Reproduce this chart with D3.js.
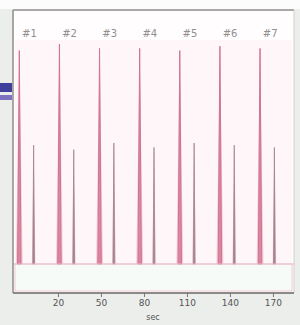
<!DOCTYPE html>
<html>
<head>
<meta charset="utf-8">
<script src="https://cdn.jsdelivr.net/npm/d3@7"></script>
<style>
  html, body { margin: 0; padding: 0; background: #eceeec; }
  svg { display: block; font-family: "DejaVu Sans", sans-serif; }
</style>
</head>
<body>
<svg id="chart" width="300" height="325"></svg>
<script>
// Data
const peakLabels = ['#1', '#2', '#3', '#4', '#5', '#6', '#7'];
const tallTimes = [-7, 21, 49, 77, 105, 133, 161];
const tallHeights = [97, 100, 98, 98, 97, 99, 98];
const smallTimes = [3, 31, 59, 87, 115, 143, 171];
const smallHeights = [54, 52, 55, 53, 55, 54, 53];
const xTicks = [20, 50, 80, 110, 140, 170];
const xTitle = 'sec';

// Layout
const PLOT_LEFT = 13;
const PLOT_RIGHT = 294;
const PLOT_TOP = 10;
const AXIS_Y = 293;
const BASE_Y = 264;
const APEX_Y = 44;

let svg = d3.select('#chart');

let x = d3.scaleLinear().domain([-11.4, 184]).range([PLOT_LEFT, 293]);
let y = d3.scaleLinear().domain([0, 100]).range([BASE_Y, APEX_Y]);

// page top strip
svg.append('rect').attr('x', 0).attr('y', 0).attr('width', 300).attr('height', 9)
    .attr('fill', '#fbfcfb');

// plot background
svg.append('rect')
    .attr('x', PLOT_LEFT).attr('y', PLOT_TOP)
    .attr('width', PLOT_RIGHT - PLOT_LEFT).attr('height', AXIS_Y - PLOT_TOP)
    .attr('fill', '#fffdfd');
svg.append('rect')
    .attr('x', PLOT_LEFT + 2).attr('y', 40)
    .attr('width', PLOT_RIGHT - PLOT_LEFT - 4).attr('height', BASE_Y - 40)
    .attr('fill', '#fef6f8');

// lower strip under the baseline
svg.append('rect')
    .attr('x', PLOT_LEFT + 2).attr('y', BASE_Y)
    .attr('width', PLOT_RIGHT - PLOT_LEFT - 4).attr('height', AXIS_Y - BASE_Y - 2)
    .attr('fill', '#f7fbf8')
    .attr('stroke', '#efc9d5').attr('stroke-width', 1);

// small blue markers at the far left
svg.append('rect').attr('x', 0).attr('y', 83).attr('width', 12).attr('height', 9)
    .attr('fill', '#3f3f9c');
svg.append('rect').attr('x', 0).attr('y', 95).attr('width', 12).attr('height', 5)
    .attr('fill', '#7d72c0');

let defs = svg.append('defs');
defs.append('filter').attr('id', 'soft')
    .append('feGaussianBlur').attr('stdDeviation', 0.7);

let peakArea = d3.area()
    .x(function(d) { return x(d[0]); })
    .y0(y(0))
    .y1(function(d) { return y(d[1]); });

function peakPoints(t, h, hw) {
  return [[t - hw, 0], [t, h], [t + hw, 0]];
}

let peaks = svg.append('g').attr('filter', 'url(#soft)');

// halo of the tall peaks
tallTimes.forEach(function(t, i) {
  peaks.append('path')
      .attr('d', peakArea(peakPoints(t, tallHeights[i], 2.4)))
      .attr('fill', '#f4cbd8');
});
tallTimes.forEach(function(t, i) {
  peaks.append('path')
      .attr('d', peakArea(peakPoints(t, tallHeights[i], 1.2)))
      .attr('fill', '#da879f')
      .attr('stroke', '#cf7492').attr('stroke-width', 1);
});
smallTimes.forEach(function(t, i) {
  peaks.append('path')
      .attr('d', peakArea(peakPoints(t, smallHeights[i], 1.3)))
      .attr('fill', '#eed3dc');
  peaks.append('path')
      .attr('d', peakArea(peakPoints(t, smallHeights[i], 0.6)))
      .attr('fill', '#a98493')
      .attr('stroke', '#a07c8c').attr('stroke-width', 0.7);
});

// baseline
svg.append('line')
    .attr('x1', PLOT_LEFT).attr('x2', PLOT_RIGHT)
    .attr('y1', BASE_Y).attr('y2', BASE_Y)
    .attr('stroke', '#eab9c9').attr('stroke-width', 1.2);

// peak labels
svg.append('g').selectAll('text')
    .data(peakLabels)
    .join('text')
    .attr('x', function(d, i) { return (x(tallTimes[i]) + x(smallTimes[i])) / 2 + 3; })
    .attr('y', 37)
    .attr('text-anchor', 'middle')
    .attr('font-size', 10)
    .attr('fill', '#8f8f8f')
    .text(function(d) { return d; });

// frame
svg.append('line').attr('x1', PLOT_LEFT).attr('x2', PLOT_RIGHT)
    .attr('y1', PLOT_TOP).attr('y2', PLOT_TOP)
    .attr('stroke', '#a9a9a9').attr('stroke-width', 2);
svg.append('line').attr('x1', PLOT_LEFT).attr('x2', PLOT_LEFT)
    .attr('y1', PLOT_TOP).attr('y2', AXIS_Y)
    .attr('stroke', '#8d8d8d').attr('stroke-width', 1.5);
svg.append('line').attr('x1', PLOT_RIGHT).attr('x2', PLOT_RIGHT)
    .attr('y1', PLOT_TOP).attr('y2', AXIS_Y)
    .attr('stroke', '#cfcfcf').attr('stroke-width', 1);

// x axis
let xAxis = svg.append('g')
    .attr('transform', 'translate(0,' + AXIS_Y + ')')
    .call(d3.axisBottom(x).tickValues(xTicks).tickSize(4).tickPadding(3));
xAxis.select('.domain')
    .attr('d', 'M' + PLOT_LEFT + ',0H' + PLOT_RIGHT)
    .attr('stroke', '#666').attr('stroke-width', 1.5);
xAxis.selectAll('.tick line').attr('stroke', '#777');
xAxis.selectAll('.tick text')
    .attr('font-size', 9).attr('fill', '#555')
    .attr('font-family', '"DejaVu Sans", sans-serif');

svg.append('text')
    .attr('x', 153).attr('y', 320)
    .attr('text-anchor', 'middle')
    .attr('font-size', 8)
    .attr('fill', '#555')
    .text(xTitle);
</script>
</body>
</html>
